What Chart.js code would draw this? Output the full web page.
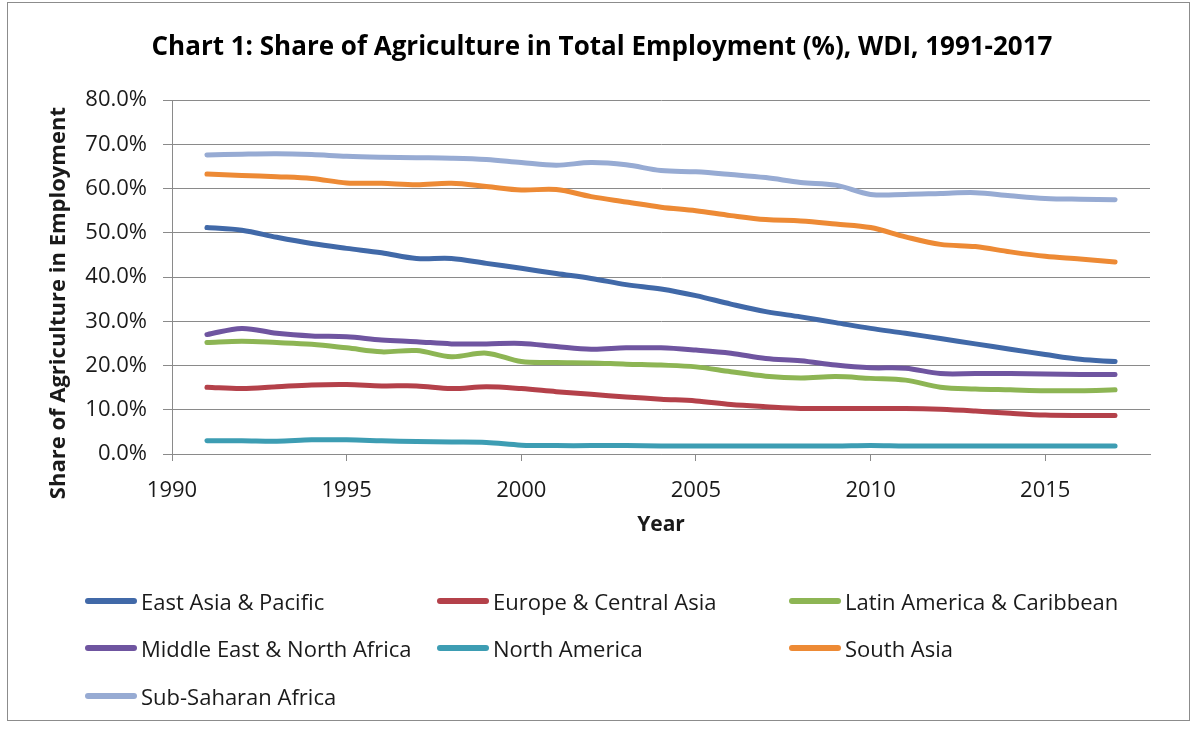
<!DOCTYPE html>
<html>
<head>
<meta charset="utf-8">
<script src="https://cdn.jsdelivr.net/npm/chart.js@4.4.1/dist/chart.umd.min.js"></script>
<style>
    body { margin: 0; background: #fff; font-family: "Open Sans", sans-serif; }
    #wrap { position: relative; width: 1198px; height: 730px; }
    #frame { position: absolute; left: 7px; top: 2px; width: 1183px; height: 719px; border: 1px solid #8c8c8c; box-sizing: border-box; }
    #legend { position: absolute; left: 85px; top: 577px; display: grid; grid-template-columns: 352px 352px 352px; grid-auto-rows: 47.5px; }
    .item { display: flex; align-items: center; font-size: 22px; color: #1a1a1a; white-space: nowrap; }
    .swatch { width: 52px; height: 6px; border-radius: 3px; margin-right: 4px; }
</style>
</head>
<body>
<div id="wrap">
    <div id="frame"></div>
    <canvas id="chart" width="1198" height="730"></canvas>
    <div id="legend"></div>
</div>
<script>
const years = [1991, 1992, 1993, 1994, 1995, 1996, 1997, 1998, 1999, 2000, 2001, 2002, 2003, 2004,
               2005, 2006, 2007, 2008, 2009, 2010, 2011, 2012, 2013, 2014, 2015, 2016, 2017];

const eastAsia    = [51.2, 50.6, 49.0, 47.6, 46.5, 45.5, 44.2, 44.2, 43.1, 42.0, 40.8, 39.7, 38.3, 37.3,
                     35.8, 33.9, 32.2, 31.0, 29.7, 28.4, 27.3, 26.1, 24.9, 23.7, 22.5, 21.4, 20.9];
const europe      = [15.1, 14.8, 15.2, 15.6, 15.7, 15.4, 15.4, 14.8, 15.2, 14.8, 14.1, 13.5, 12.9, 12.4,
                     12.0, 11.2, 10.7, 10.3, 10.3, 10.3, 10.3, 10.1, 9.7, 9.2, 8.8, 8.7, 8.7];
const latinAm     = [25.2, 25.5, 25.2, 24.8, 24.0, 23.1, 23.4, 22.0, 22.8, 20.9, 20.7, 20.6, 20.3, 20.1,
                     19.7, 18.6, 17.6, 17.2, 17.5, 17.1, 16.7, 15.1, 14.7, 14.5, 14.3, 14.3, 14.5];
const middleEast  = [27.0, 28.4, 27.3, 26.7, 26.5, 25.8, 25.4, 24.9, 24.9, 25.0, 24.3, 23.7, 24.0, 24.0,
                     23.5, 22.8, 21.6, 21.1, 20.1, 19.5, 19.4, 18.2, 18.2, 18.2, 18.1, 18.0, 18.0];
const northAm     = [3.0, 3.0, 2.9, 3.2, 3.2, 3.0, 2.8, 2.7, 2.6, 2.0, 1.9, 1.9, 1.9, 1.8,
                     1.8, 1.8, 1.8, 1.8, 1.8, 1.9, 1.8, 1.8, 1.8, 1.8, 1.8, 1.8, 1.8];
const southAsia   = [63.3, 63.0, 62.7, 62.3, 61.3, 61.2, 60.9, 61.2, 60.5, 59.7, 59.8, 58.2, 57.0, 55.8,
                     55.0, 53.9, 53.0, 52.7, 52.0, 51.2, 49.1, 47.4, 46.9, 45.7, 44.7, 44.1, 43.4];
const subSaharan  = [67.6, 67.8, 67.9, 67.7, 67.3, 67.1, 67.0, 66.9, 66.6, 65.9, 65.3, 65.9, 65.4, 64.1,
                     63.8, 63.2, 62.5, 61.4, 60.8, 58.7, 58.7, 58.9, 59.1, 58.4, 57.8, 57.6, 57.5];

const seriesNames  = ['East Asia & Pacific', 'Europe & Central Asia', 'Latin America & Caribbean',
                      'Middle East & North Africa', 'North America', 'South Asia', 'Sub-Saharan Africa'];
const seriesValues = [eastAsia, europe, latinAm, middleEast, northAm, southAsia, subSaharan];
const seriesColors = ['#4169a8', '#b4414a', '#8db554', '#6f55a0', '#3d9db3', '#ed8a35', '#97abd3'];

const yTicks = [0, 10, 20, 30, 40, 50, 60, 70, 80];

const datasets = seriesNames.map((name, i) => ({
    label: name,
    data: years.map((yr, j) => ({ x: yr, y: seriesValues[i][j] })),
    borderColor: seriesColors[i],
    backgroundColor: seriesColors[i],
    borderWidth: 5,
    pointRadius: 0,
    tension: 0.35,
    borderCapStyle: 'round',
    borderJoinStyle: 'round'
}));

// y axis title drawn by hand, Excel puts it a bit below the plot centre
const yTitle = {
    id: 'yTitle',
    afterDraw(chart) {
        const { ctx, chartArea } = chart;
        ctx.save();
        ctx.translate(59, (chartArea.top + chartArea.bottom) / 2 + 26);
        ctx.rotate(-Math.PI / 2);
        ctx.font = 'bold 22px "Open Sans"';
        ctx.fillStyle = '#1a1a1a';
        ctx.textAlign = 'center';
        ctx.textBaseline = 'middle';
        ctx.fillText('Share of Agriculture in Employment', 0, 0);
        ctx.restore();
    }
};

const gridColor = '#8a8a8a';

new Chart(document.getElementById('chart'), {
    type: 'line',
    data: { datasets: datasets },
    options: {
        responsive: false,
        animation: false,
        layout: { padding: { left: 54, right: 48, top: 0, bottom: 190 } },
        plugins: {
            legend: { display: false },
            tooltip: { enabled: false },
            title: {
                display: true,
                text: 'Chart 1: Share of Agriculture in Total Employment (%), WDI, 1991-2017',
                color: '#000',
                font: { family: 'Open Sans', size: 26, weight: 'bold' },
                padding: { top: 32, bottom: 37 }
            }
        },
        scales: {
            x: {
                type: 'linear',
                min: 1990,
                max: 2018,
                afterFit: scale => { scale.height = 86; },
                ticks: {
                    stepSize: 5,
                    includeBounds: false,
                    padding: 17,
                    color: '#1a1a1a',
                    font: { family: 'Open Sans', size: 22 },
                    maxRotation: 0,
                    callback: v => String(v)
                },
                grid: { drawOnChartArea: false, color: gridColor, tickLength: 7 },
                border: { color: gridColor },
                title: {
                    display: true,
                    text: 'Year',
                    color: '#1a1a1a',
                    font: { family: 'Open Sans', size: 21, weight: 'bold' },
                    padding: { top: 0, bottom: 2 }
                }
            },
            y: {
                min: 0,
                max: 80,
                afterFit: scale => { scale.width = 118; },
                afterBuildTicks: scale => { scale.ticks = yTicks.map(v => ({ value: v })); },
                ticks: {
                    padding: 16,
                    color: '#1a1a1a',
                    font: { family: 'Open Sans', size: 22 },
                    callback: v => v.toFixed(1) + '%'
                },
                grid: { color: gridColor, tickLength: 9 },
                border: { color: gridColor }
            }
        }
    },
    plugins: [yTitle]
});

const legend = document.getElementById('legend');
datasets.forEach(ds => {
    const item = document.createElement('div');
    item.className = 'item';
    const sw = document.createElement('span');
    sw.className = 'swatch';
    sw.style.background = ds.borderColor;
    item.appendChild(sw);
    item.appendChild(document.createTextNode(ds.label));
    legend.appendChild(item);
});
</script>
</body>
</html>
